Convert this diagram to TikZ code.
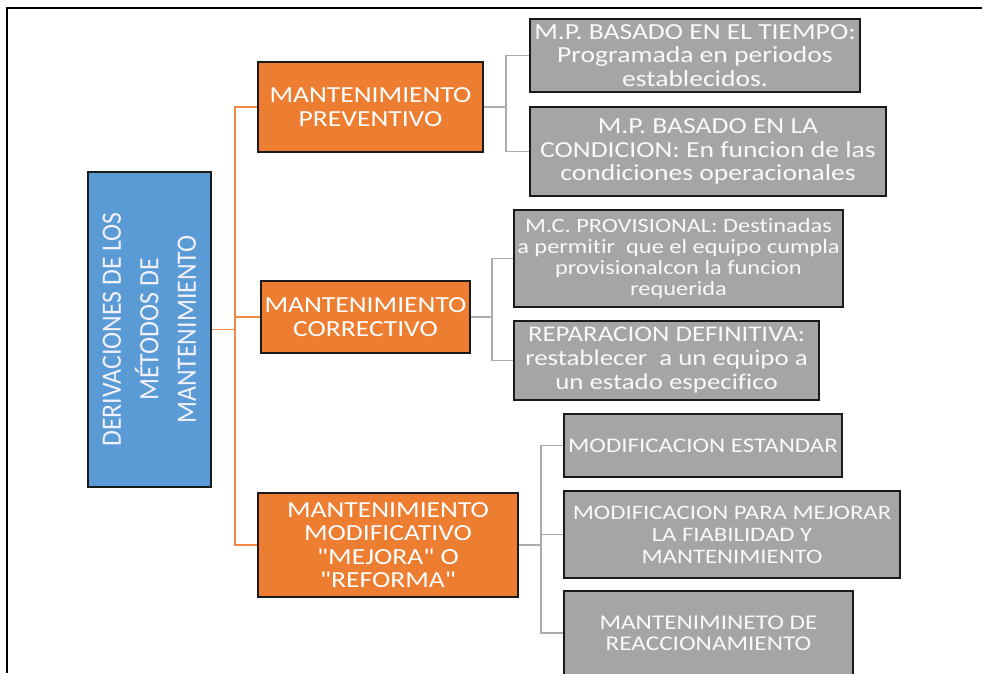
\documentclass[tikz,border=0pt]{standalone}
\usepackage{fontspec}
\setmainfont[Ligatures=NoCommon]{Carlito}
\newfontfamily\widefont[FakeStretch=1.2,Ligatures=NoCommon]{Carlito}
\newfontfamily\narrowfont[FakeStretch=0.92,Ligatures=NoCommon]{Carlito}
\definecolor{orangefill}{HTML}{ED7D31}
\definecolor{orangeline}{HTML}{F08A45}
\definecolor{bluefill}{HTML}{5B9BD5}
\definecolor{grayfill}{HTML}{A5A5A5}
\definecolor{grayline}{HTML}{ABABAB}
\definecolor{boxedge}{HTML}{1A1A1A}
\tikzset{
  box/.style={draw=boxedge, line width=2.2pt, inner sep=0pt, align=center, text=white},
  obox/.style={box, fill=orangefill, font=\widefont\fontsize{23}{23.5}\selectfont},
  gbox/.style={box, fill=grayfill, text=white!95!gray, font=\widefont\fontsize{23}{23.5}\selectfont},
  bbox/.style={box, fill=bluefill, text=white!95!blue},
  oconn/.style={draw=orangeline, line width=1.8pt},
  gconn/.style={draw=grayline, line width=1.8pt},
}
\begin{document}
\begin{tikzpicture}[x=1pt,y=-1pt]
\clip (0,0) rectangle (982,673);
\fill[white] (0,0) rectangle (982,673);
% frame
\draw[line width=2pt, black] (7,673) -- (7,8) -- (982,8);

% root
\node[bbox, minimum width=123pt, minimum height=315pt] (root) at (149.5,329.5) {};
\node[rotate=90, align=center, text=white!95!blue, font=\narrowfont\fontsize{28}{37.5}\selectfont] (roottext) at (root.center)
  {DERIVACIONES DE LOS\\MÉTODOS DE\\MANTENIMIENTO};

% main branches
\node[obox, minimum width=225pt, minimum height=90pt] (prev) at (370.5,107) {MANTENIMIENTO\\PREVENTIVO};
\node[obox, minimum width=209pt, minimum height=72pt] (corr) at (365.5,317) {MANTENIMIENTO\\CORRECTIVO};
\node[obox, minimum width=260pt, minimum height=104pt] (modi) at (388,545)
  {MANTENIMIENTO\\MODIFICATIVO\\"MEJORA" O\\"REFORMA"};

% leaves
\node[gbox, minimum width=330pt, minimum height=73pt] (g1) at (695,55.5)
  {M.P. BASADO EN EL TIEMPO:\\Programada en periodos\\establecidos.};
\node[gbox, minimum width=356pt, minimum height=89pt] (g2) at (708,151.5)
  {M.P. BASADO EN LA\\CONDICION: En funcion de las\\condiciones operacionales};
\node[gbox, minimum width=329pt, minimum height=97pt, font=\widefont\fontsize{20.3}{21}\selectfont] (g3) at (678.5,258.5)
  {M.C. PROVISIONAL: Destinadas\\a permitir\ \ que el equipo cumpla\\provisionalcon la funcion\\requerida};
\node[gbox, minimum width=305pt, minimum height=79pt, font=\widefont\fontsize{22.4}{24}\selectfont] (g4) at (666.5,360.5)
  {REPARACION DEFINITIVA:\\restablecer\ \ a un equipo a\\un estado especifico};
\node[gbox, minimum width=278pt, minimum height=63pt, font=\widefont\fontsize{20.8}{22}\selectfont] (g5) at (703,445.5)
  {MODIFICACION ESTANDAR};
\node[gbox, minimum width=336pt, minimum height=87pt, font=\widefont\fontsize{20.6}{22}\selectfont] (g6) at (732,534.5)
  {MODIFICACION PARA MEJORAR\\LA FIABILIDAD Y\\MANTENIMIENTO};
\node[gbox, minimum width=289pt, minimum height=84pt, font=\widefont\fontsize{21}{20.5}\selectfont] (g7) at (708.5,633)
  {MANTENIMINETO DE\\REACCIONAMIENTO};

% junction points
\coordinate (jr) at (235,329.5);
\coordinate (jp) at (506,107);
\coordinate (jc) at (492,317);
\coordinate (jm) at (541,545);

% connectors from the root
\draw[oconn] (root.east) -- (jr);
\draw[oconn] (jr) |- (prev.west);
\draw[oconn] (jr) |- (corr.west);
\draw[oconn] (jr) |- (modi.west);

% connectors to the leaves
\draw[gconn] (prev.east) -- (jp);
\draw[gconn] (jp) |- (g1.west);
\draw[gconn] (jp) |- (g2.west);
\draw[gconn] (corr.east) -- (jc);
\draw[gconn] (jc) |- (g3.west);
\draw[gconn] (jc) |- (g4.west);
\draw[gconn] (modi.east) -- (jm);
\draw[gconn] (jm) |- (g5.west);
\draw[gconn] (jm) |- (g6.west);
\draw[gconn] (jm) |- (g7.west);
\end{tikzpicture}
\end{document}
